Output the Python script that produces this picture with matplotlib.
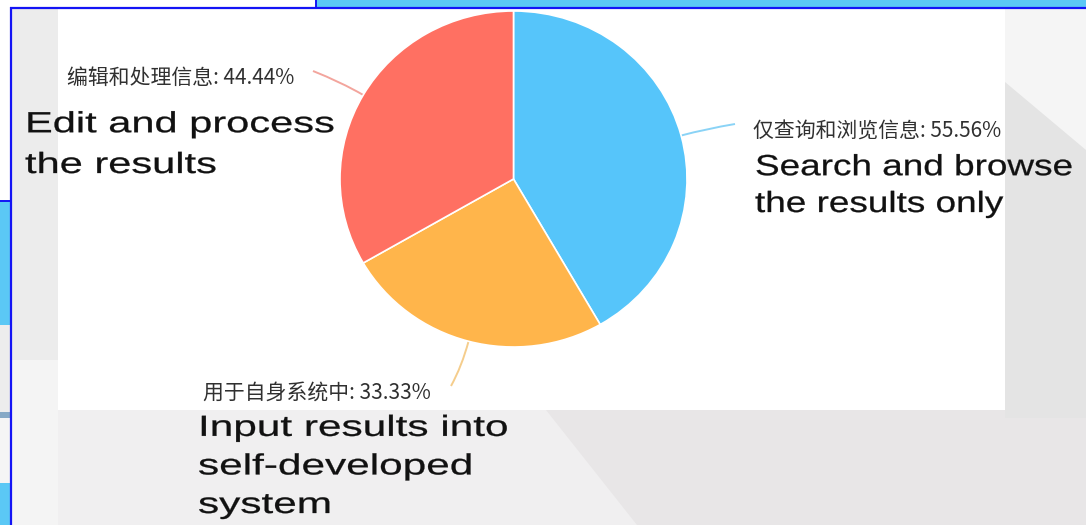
import numpy as np
import matplotlib
matplotlib.use("Agg")
import matplotlib.pyplot as plt
import matplotlib.patheffects as pe
from matplotlib.patches import Rectangle, Polygon, PathPatch
from matplotlib.path import Path
from matplotlib.transforms import Affine2D

# Datos (en el orden del pastel, sentido horario desde arriba)
labels_cn = ["仅查询和浏览信息", "用于自身系统中", "编辑和处理信息"]
percent = [55.56, 33.33, 44.44]
labels_en = ["Search and browse\nthe results only",
             "Input results into\nself-developed\nsystem",
             "Edit and process\nthe results"]
colors = ["#56C5FA", "#FFB54B", "#FF7062"]
line_colors = ["#8AD3F6", "#F5CD8C", "#F3A59D"]

W, H = 1086, 525
DPI = 100


class StretchX(pe.AbstractPathEffect):
    """Ensancha horizontalmente el texto alrededor de su origen (y lo engruesa un poco)."""
    def __init__(self, sx, lw=0.2):
        super().__init__()
        self.sx = sx
        self.lw = lw

    def draw_path(self, renderer, gc, tpath, affine, rgbFace=None):
        x0, y0 = affine.transform((0, 0))
        st = Affine2D().translate(-x0, -y0).scale(self.sx, 1).translate(x0, y0)
        gc0 = renderer.new_gc()
        gc0.copy_properties(gc)
        gc0.set_linewidth(self.lw)
        renderer.draw_path(gc0, tpath, affine + st, rgbFace)
        gc0.restore()


fig = plt.figure(figsize=(W / DPI, H / DPI), dpi=DPI, facecolor="#E8E6E7")

# Capa de fondo en coordenadas de pixel (y hacia abajo)
bg = fig.add_axes([0, 0, 1, 1], zorder=0)
bg.set_xlim(0, W)
bg.set_ylim(H, 0)
bg.axis("off")

bg.add_patch(Polygon([(10, 410), (546, 410), (637, 525), (10, 525)],
                     closed=True, color="#F0EFF0", lw=0))
bg.add_patch(Rectangle((1005, 8), 81, 410, color="#E4E4E4", lw=0))
bg.add_patch(Polygon([(1005, 8), (1086, 8), (1086, 150), (1005, 82)],
                     closed=True, color="#F5F5F5", lw=0))
bg.add_patch(Rectangle((10, 8), 48, 352, color="#ECECEC", lw=0))
bg.add_patch(Rectangle((10, 360), 48, 165, color="#F4F4F4", lw=0))
bg.add_patch(Rectangle((58, 8), 947, 402, color="white", lw=0))
bg.add_patch(Rectangle((0, 0), 316, 7, color="white", lw=0))
bg.add_patch(Rectangle((316, 0), 770, 7, color="#5BC8F5", lw=0))
bg.add_patch(Rectangle((0, 0), 10, 200, color="white", lw=0))
bg.add_patch(Rectangle((0, 200), 10, 125, color="#5BC8F5", lw=0))
bg.add_patch(Rectangle((0, 325), 10, 90, color="#EDEDED", lw=0))
bg.add_patch(Rectangle((0, 412), 10, 6, color="#86A9C6", lw=0))
bg.add_patch(Rectangle((0, 418), 10, 65, color="#F5F5F5", lw=0))
bg.add_patch(Rectangle((0, 483), 10, 42, color="#5BC8F5", lw=0))
bg.plot([10, W], [7.5, 7.5], color="#1414F5", lw=1.6, solid_capstyle="butt")
bg.plot([10.5, 10.5], [7, H], color="#1414F5", lw=1.6, solid_capstyle="butt")
bg.plot([316, 316], [0, 7.5], color="#1414F5", lw=1.4, solid_capstyle="butt")
bg.plot([0, 10], [200.5, 200.5], color="#1414F5", lw=1.4, solid_capstyle="butt")

# Pastel
cx, cy, rx, ry = 513.5, 179, 173.5, 168
ax = fig.add_axes([(cx - rx) / W, (H - cy - ry) / H, 2 * rx / W, 2 * ry / H],
                  zorder=2)
wedges, _ = ax.pie(percent, colors=colors, startangle=90, counterclock=False,
                   wedgeprops=dict(edgecolor="white", linewidth=1.2))
ax.set_aspect("auto")
ax.set_xlim(-1, 1)
ax.set_ylim(-1, 1)
ax.axis("off")

# Líneas guía y etiquetas
line_end = [(735, 124), (451, 386), (313, 71)]
cn_pos = [(753, 131), (203, 393), (67, 78)]
# x izquierda, y = línea base de la última línea
en_pos = [(755, 212), (198, 513), (25, 173)]
en_width = [318, 310, 310]
en_spacing = [1.40, 1.48, 1.58]

to_bg = bg.transData.inverted()
for w, lc, end in zip(wedges, line_colors, line_end):
    mid = np.deg2rad((w.theta1 + w.theta2) / 2)
    p0 = to_bg.transform(ax.transData.transform((np.cos(mid), np.sin(mid))))
    p1 = p0 + 26 * np.array([np.cos(mid), -np.sin(mid)])
    path = Path([p0, p1, end], [Path.MOVETO, Path.CURVE3, Path.CURVE3])
    bg.add_patch(PathPatch(path, fc="none", ec=lc, lw=1.4, zorder=3))

for lab, pct, (x, y) in zip(labels_cn, percent, cn_pos):
    bg.text(x, y, f"{lab}: {pct:.2f}%", fontsize=15, color="#303030",
            family=["Noto Sans CJK SC", "DejaVu Sans"], ha="left", va="center")

en_texts = []
for lab, (x, y), sp in zip(labels_en, en_pos, en_spacing):
    t = bg.text(x, y, lab, fontsize=21, color="#111111",
                family=["Liberation Sans", "DejaVu Sans"], ha="left",
                va="baseline", linespacing=sp)
    en_texts.append(t)

# Ajustar el ancho horizontal de los textos en inglés
renderer = fig.canvas.get_renderer()
for t, target in zip(en_texts, en_width):
    bb = t.get_window_extent(renderer=renderer)
    t.set_path_effects([StretchX(target / bb.width)])

fig.savefig("out.png", dpi=DPI, facecolor=fig.get_facecolor())
